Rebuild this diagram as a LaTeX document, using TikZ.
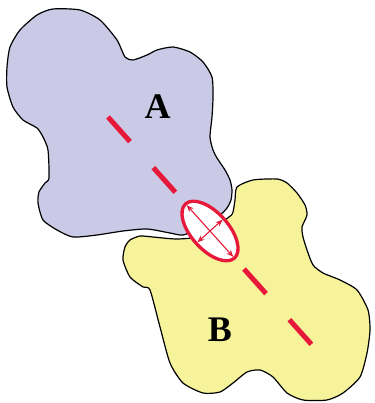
\documentclass[tikz,border=0pt]{standalone}
\usepackage{fontspec}
\setmainfont{Liberation Serif}
\usetikzlibrary{arrows.meta,shapes.geometric}
\definecolor{regionA}{RGB}{203,202,230}
\definecolor{regionB}{RGB}{247,243,155}
\definecolor{contactred}{RGB}{230,25,58}

\begin{document}
\begin{tikzpicture}[
  x=1pt, y=-1pt,
  region/.style = {draw=black, line width=1.2pt, line join=round},
  axisline/.style = {draw=contactred, line width=5pt, dash pattern=on 33pt off 35pt},
  contactbox/.style = {
    ellipse, draw=contactred, fill=white, line width=3.3pt,
    minimum width=73pt, minimum height=37pt, inner sep=0pt, rotate=-48
  },
  darrow/.style = {{Stealth[length=7pt,width=5.5pt]}-{Stealth[length=7pt,width=5.5pt]},
    contactred, line width=1.1pt, shorten <=3.3pt, shorten >=3.3pt},
  regionlabel/.style = {font=\fontsize{36}{36}\selectfont\bfseries, inner sep=0pt},
]
\useasboundingbox (0,0) rectangle (374,403);

%% ---- Region B ----
\draw[region, fill=regionB] plot[smooth cycle, tension=0.4] coordinates {
  (237,187) (253,180) (277,179) (287,183) (297,193) (305,205) (307,215)
  (302,227) (303,237) (307,250) (313,265) (323,273) (340,280) (357,290)
  (368,310) (370,330) (367,353) (360,377) (343,393) (327,400) (303,400)
  (287,393) (273,377) (260,370) (247,372) (233,383) (220,392) (203,393)
  (183,383) (170,363) (160,327) (150,290) (143,287) (130,277) (123,260)
  (125,247) (130,240) (140,236) (153,237) (177,239) (200,236) (229,217)
  (233,212) (235,200)};

%% ---- Region A ----
\draw[region, fill=regionA] plot[smooth cycle, tension=0.4] coordinates {
  (37,15) (53,9) (80,10) (100,20) (117,40) (125,57) (133,60) (147,55)
  (157,50) (173,47) (190,52) (203,62) (212,77) (213,97) (212,117)
  (210,137) (213,150) (217,158) (225,170) (230,180) (232,190) (231,200)
  (227,208) (220,215) (200,228) (183,235) (170,233) (147,229) (123,231)
  (97,235) (73,237) (57,230) (43,220) (38,203) (39,192) (45,183)
  (49,178) (48,150) (43,137) (37,128) (23,120) (13,107) (7,87) (7,67)
  (10,47) (20,30)};

%% ---- Labels ----
\node[regionlabel] (labA) at (157.5,107) {A};
\node[regionlabel] (labB) at (220,329.5) {B};

%% ---- Axis and contact ----
\coordinate (axisA) at (108,117);
\coordinate (axisB) at (312,345);
\draw[axisline] (axisA) -- (axisB);

\node[contactbox] (contact) at (210,231) {};
\draw[darrow] (contact.west)  -- (contact.east);
\draw[darrow] (contact.south) -- (contact.north);

\end{tikzpicture}
\end{document}
